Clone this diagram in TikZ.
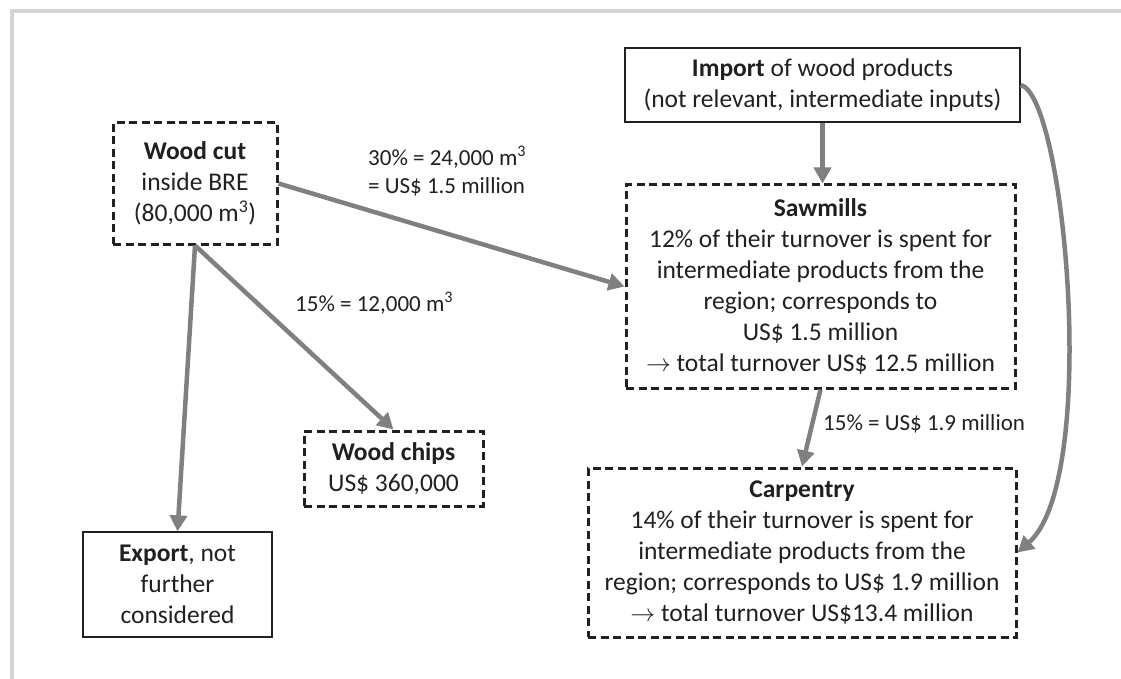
\documentclass[tikz,border=0pt]{standalone}
\usepackage{fontspec}
\setmainfont{Carlito}
\usetikzlibrary{arrows.meta}
\definecolor{arrowgray}{RGB}{128,128,128}
\definecolor{ink}{RGB}{35,31,32}
\definecolor{framegray}{RGB}{212,212,212}
\begin{document}
\begin{tikzpicture}[x=1pt,y=-1pt,
  every node/.style={font=\fontsize{25.5}{31}\selectfont, text=ink, align=center, inner sep=0pt},
  dbox/.style={draw=ink, line width=3pt, dash pattern=on 8pt off 4.5pt},
  sbox/.style={draw=ink, line width=1.4pt},
  lbl/.style={font=\fontsize{23}{28}\selectfont, align=left, anchor=west},
  flow/.style={draw=arrowgray, line width=4.5pt, -{Triangle[length=16pt,width=17pt]}}
]
\useasboundingbox (0,0) rectangle (1121,679);
\draw[framegray, line width=4pt] (12,679) -- (12,11) -- (1121,11);

\node[dbox, minimum width=164pt, minimum height=121pt] (woodcut) at (195,183.5)
  {\textbf{Wood cut}\\inside BRE\\(80,000 m\textsuperscript{3})};
\node[sbox, minimum width=395pt, minimum height=74pt] (import) at (822.5,85)
  {\textbf{Import} of wood products\\(not relevant, intermediate inputs)};
\node[dbox, minimum width=389pt, minimum height=203pt] (saw) at (820.5,286.5)
  {\textbf{Sawmills}\\12\% of their turnover is spent for\\intermediate products from the\\region; corresponds to\\US\$ 1.5 million\\$\rightarrow$ total turnover US\$ 12.5 million};
\node[dbox, minimum width=179pt, minimum height=75pt] (chips) at (393.5,468.5)
  {\textbf{Wood chips}\\US\$ 360,000};
\node[sbox, minimum width=189pt, minimum height=105pt] (export) at (177.5,584.5)
  {\textbf{Export}, not\\further\\considered};
\node[dbox, minimum width=428pt, minimum height=169pt] (carp) at (802,552.5)
  {\textbf{Carpentry}\\14\% of their turnover is spent for\\intermediate products from the\\region; corresponds to US\$ 1.9 million\\$\rightarrow$ total turnover US\$13.4 million};

\node[lbl] (l30) at (368,171) {30\% = 24,000 m\textsuperscript{3}\\= US\$ 1.5 million};
\node[lbl] (l15a) at (295,303) {15\% = 12,000 m\textsuperscript{3}};
\node[lbl] (l15b) at (823,424) {15\% = US\$ 1.9 million};

\draw[flow] (woodcut.east) -- (saw.west);
\draw[flow] (woodcut.south) -- (export.north);
\draw[flow] (woodcut.south) -- (chips.north);
\draw[flow] (import.south) -- (import.south |- saw.north);
\draw[flow] (saw.south) -- (carp.north);
\draw[flow] (import.east) .. controls (1065,95) and (1100,480) .. (carp.east);
\end{tikzpicture}
\end{document}
